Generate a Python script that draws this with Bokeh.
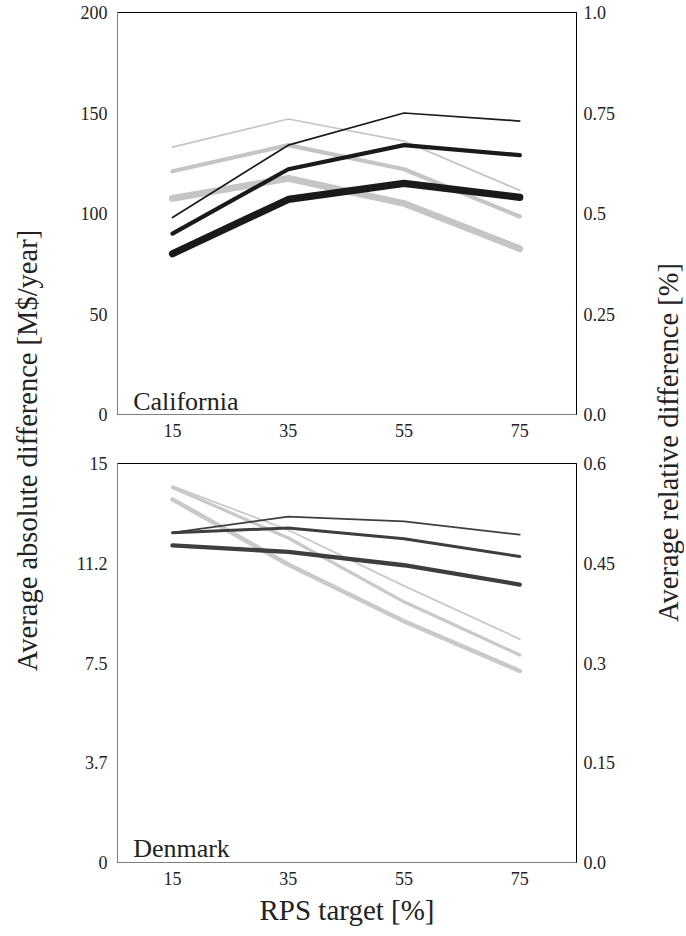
from math import pi
from bokeh.plotting import figure
from bokeh.models import Range1d, LinearAxis, Label, FixedTicker
from bokeh.layouts import row, column
from bokeh.embed import file_html
from bokeh.resources import INLINE

# ---------------- data ----------------
rps = [15, 35, 55, 75]
x_ticks = [15, 35, 55, 75]

# California: absolute difference (left axis, M$/year) -- grey lines
ca_abs_thin = [133.0, 147.0, 136.0, 111.5]
ca_abs_med = [121.0, 134.0, 122.0, 98.5]
ca_abs_thick = [107.5, 117.5, 105.0, 82.5]
# California: relative difference (right axis, %) -- black lines
ca_rel_thin = [0.49, 0.67, 0.75, 0.73]
ca_rel_med = [0.45, 0.61, 0.67, 0.645]
ca_rel_thick = [0.40, 0.535, 0.575, 0.54]

# Denmark: absolute difference (left axis) -- grey lines
dk_abs_thin = [14.15, 12.5, 10.4, 8.4]
dk_abs_med = [14.1, 12.2, 9.8, 7.8]
dk_abs_thick = [13.65, 11.2, 9.07, 7.2]
# Denmark: relative difference (right axis) -- dark lines
dk_rel_thin = [0.496, 0.52, 0.513, 0.493]
dk_rel_med = [0.496, 0.503, 0.487, 0.46]
dk_rel_thick = [0.477, 0.467, 0.447, 0.418]

ca_left_ticks = [0, 50, 100, 150, 200]
ca_left_labels = ["0", "50", "100", "150", "200"]
ca_right_ticks = [0.0, 0.25, 0.5, 0.75, 1.0]
ca_right_labels = ["0.0", "0.25", "0.5", "0.75", "1.0"]
dk_left_ticks = [0, 3.75, 7.5, 11.25, 15]
dk_left_labels = ["0", "3.7", "7.5", "11.2", "15"]
dk_right_ticks = [0.0, 0.15, 0.3, 0.45, 0.6]
dk_right_labels = ["0.0", "0.15", "0.3", "0.45", "0.6"]

FONT = "Liberation Serif"
TXT = "#222222"
SPINE_GREY = "#808080"

TOP_H = 449
BOT_H = 480
H = TOP_H + BOT_H


def style_axis(ax, line_color, standoff):
    ax.axis_line_color = line_color
    ax.axis_line_width = 1
    ax.major_tick_line_color = None
    ax.minor_tick_line_color = None
    ax.major_tick_out = 0
    ax.major_tick_in = 0
    ax.minor_tick_out = 0
    ax.minor_tick_in = 0
    ax.major_label_text_font = FONT
    ax.major_label_text_font_size = "18px"
    ax.major_label_text_color = TXT
    ax.major_label_standoff = standoff


def panel(height, btop, bbottom, yr, yr2, lt, ll, rt, rl,
          abs_series, rel_series, grey, dark, name, name_y, xlabel=None):
    p = figure(width=590, height=height,
               x_range=Range1d(5.5, 84.8), y_range=Range1d(*yr),
               output_backend="svg", toolbar_location=None,
               min_border_left=70, min_border_right=61,
               min_border_top=btop, min_border_bottom=bbottom)
    p.extra_y_ranges = {"rel": Range1d(*yr2)}
    p.xgrid.visible = False
    p.ygrid.visible = False
    p.outline_line_color = "black"
    p.outline_line_width = 1
    p.background_fill_color = "white"
    p.border_fill_color = "white"

    p.xaxis.ticker = FixedTicker(ticks=x_ticks)
    p.yaxis.ticker = FixedTicker(ticks=lt)
    p.yaxis.major_label_overrides = {t: l for t, l in zip(lt, ll)}
    style_axis(p.xaxis[0], SPINE_GREY, 9)
    style_axis(p.yaxis[0], SPINE_GREY, 10)

    ax2 = LinearAxis(y_range_name="rel", ticker=FixedTicker(ticks=rt))
    ax2.major_label_overrides = {t: l for t, l in zip(rt, rl)}
    style_axis(ax2, "black", 7)
    p.add_layout(ax2, "right")

    if xlabel:
        p.xaxis.axis_label = xlabel
        p.xaxis.axis_label_text_font = FONT
        p.xaxis.axis_label_text_font_size = "29px"
        p.xaxis.axis_label_text_font_style = "normal"
        p.xaxis.axis_label_text_color = TXT
        p.xaxis.axis_label_standoff = 6

    for ys, w in abs_series:
        p.line(rps, ys, line_color=grey, line_width=w, line_cap="round", line_join="round")
    for ys, w in rel_series:
        p.line(rps, ys, line_color=dark, line_width=w, line_cap="round", line_join="round",
               y_range_name="rel")

    p.add_layout(Label(x=8.2, y=name_y, text=name, text_font=FONT,
                       text_font_size="26px", text_color=TXT,
                       text_baseline="alphabetic", text_align="left"))
    return p


top = panel(TOP_H, 12, 35, (0, 200), (0, 1.0),
            ca_left_ticks, ca_left_labels, ca_right_ticks, ca_right_labels,
            [(ca_abs_thin, 1.7), (ca_abs_med, 4.2), (ca_abs_thick, 6.8)],
            [(ca_rel_thin, 1.7), (ca_rel_med, 4.2), (ca_rel_thick, 7.2)],
            "#c4c6c5", "#1a1a1a", "California", 6.6)

bottom = panel(BOT_H, 14, 67, (0, 15), (0, 0.6),
               dk_left_ticks, dk_left_labels, dk_right_ticks, dk_right_labels,
               [(dk_abs_thin, 1.8), (dk_abs_med, 3.2), (dk_abs_thick, 4.5)],
               [(dk_rel_thin, 1.7), (dk_rel_med, 3.0), (dk_rel_thick, 4.3)],
               "#c8c9c9", "#3e3e3e", "Denmark", 0.54, xlabel="RPS target [%]")


def label_fig(w, text, xc, yc):
    f = figure(width=w, height=H, x_range=Range1d(0, w), y_range=Range1d(0, H),
               output_backend="svg", toolbar_location=None,
               x_axis_type=None, y_axis_type=None,
               min_border=0, min_border_left=0, min_border_right=0,
               min_border_top=0, min_border_bottom=0)
    f.grid.visible = False
    f.outline_line_color = None
    f.border_fill_color = "white"
    f.add_layout(Label(x=xc, y=yc, text=text, angle=pi / 2, text_font=FONT,
                       text_font_size="28.5px", text_color=TXT,
                       text_align="center", text_baseline="middle"))
    return f


left_lab = label_fig(47, "Average absolute difference [M$/year]", 26.5, H - 450)
right_lab = label_fig(47, "Average relative difference [%]", 31, H - 442)

layout = row(left_lab, column(top, bottom), right_lab)

open("out.html", "w").write(file_html(layout, INLINE))
